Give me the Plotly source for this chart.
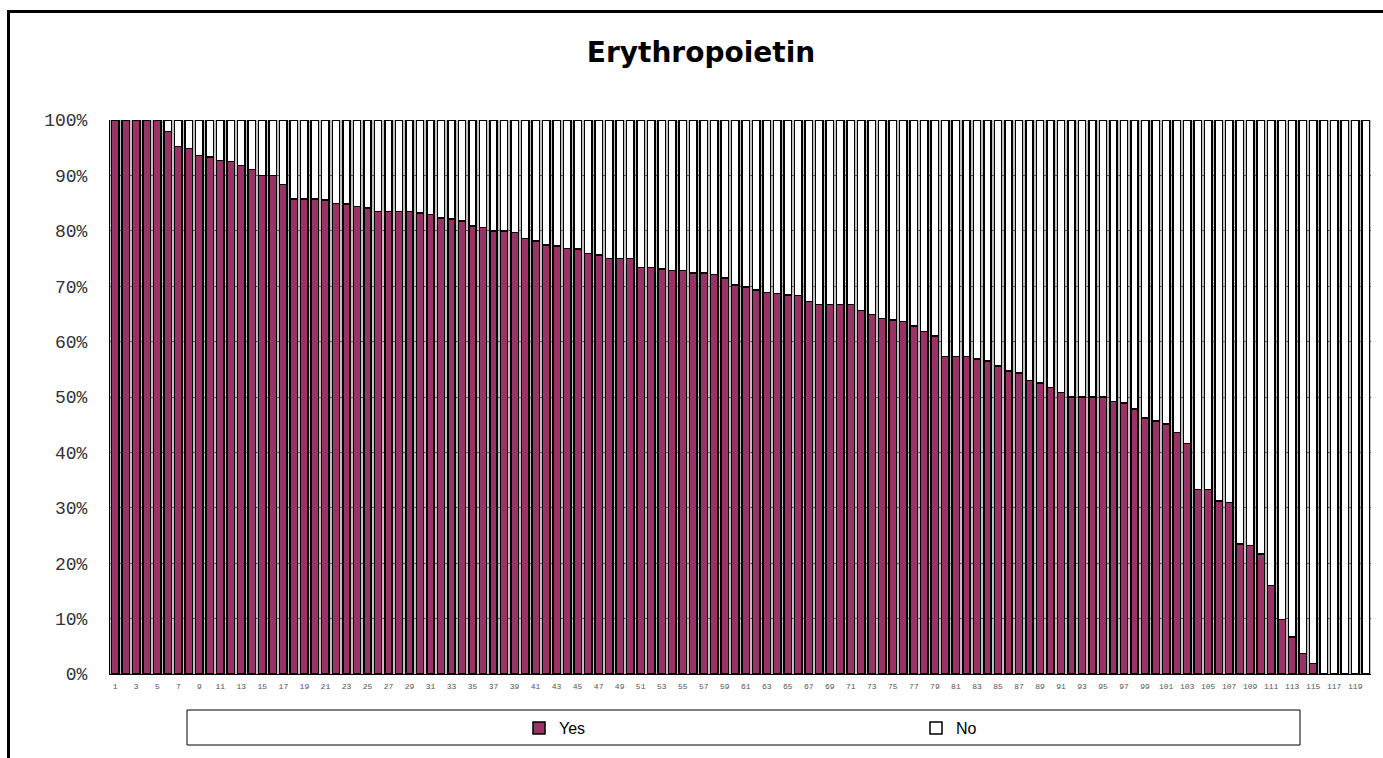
import plotly.graph_objects as go

# Share of "Yes" / "No" answers per item, in percent (100% stacked)
categories = [str(i) for i in range(1, 121)]

yes_pct = [
    100, 100, 100, 100, 100,
    97.9, 95.2, 94.9, 93.6, 93.3,
    92.7, 92.5, 91.8, 91.1, 90.0,
    90.0, 88.4, 85.7, 85.7, 85.7,
    85.6, 84.9, 84.8, 84.4, 84.1,
    83.5, 83.5, 83.5, 83.5, 83.2,
    82.9, 82.3, 82.1, 81.8, 80.9,
    80.6, 80.0, 80.0, 79.7, 78.6,
    78.2, 77.4, 77.3, 76.8, 76.7,
    75.9, 75.6, 75.0, 75.0, 75.0,
    73.4, 73.4, 73.1, 72.8, 72.8,
    72.4, 72.4, 72.1, 71.5, 70.2,
    69.9, 69.3, 68.9, 68.7, 68.4,
    68.3, 67.2, 66.7, 66.7, 66.7,
    66.7, 65.6, 64.9, 64.2, 63.9,
    63.6, 62.8, 61.8, 61.0, 57.3,
    57.3, 57.3, 56.9, 56.5, 55.6,
    54.7, 54.3, 53.0, 52.5, 51.7,
    50.8, 50.0, 50.0, 50.0, 50.0,
    49.2, 48.9, 47.8, 46.2, 45.7,
    45.1, 43.6, 41.6, 33.3, 33.3,
    31.2, 31.0, 23.5, 23.2, 21.7,
    16.0, 9.8, 6.7, 3.7, 1.9,
    0, 0, 0, 0, 0,
]

no_pct = [
    0, 0, 0, 0, 0,
    2.1, 4.8, 5.1, 6.4, 6.7,
    7.3, 7.5, 8.2, 8.9, 10.0,
    10.0, 11.6, 14.3, 14.3, 14.3,
    14.4, 15.1, 15.2, 15.6, 15.9,
    16.5, 16.5, 16.5, 16.5, 16.8,
    17.1, 17.7, 17.9, 18.2, 19.1,
    19.4, 20.0, 20.0, 20.3, 21.4,
    21.8, 22.6, 22.7, 23.2, 23.3,
    24.1, 24.4, 25.0, 25.0, 25.0,
    26.6, 26.6, 26.9, 27.2, 27.2,
    27.6, 27.6, 27.9, 28.5, 29.8,
    30.1, 30.7, 31.1, 31.3, 31.6,
    31.7, 32.8, 33.3, 33.3, 33.3,
    33.3, 34.4, 35.1, 35.8, 36.1,
    36.4, 37.2, 38.2, 39.0, 42.7,
    42.7, 42.7, 43.1, 43.5, 44.4,
    45.3, 45.7, 47.0, 47.5, 48.3,
    49.2, 50.0, 50.0, 50.0, 50.0,
    50.8, 51.1, 52.2, 53.8, 54.3,
    54.9, 56.4, 58.4, 66.7, 66.7,
    68.8, 69.0, 76.5, 76.8, 78.3,
    84.0, 90.2, 93.3, 96.3, 98.1,
    100, 100, 100, 100, 100,
]

x_tick_labels = [str(i) for i in range(1, 121, 2)]
y_tick_values = [0, 10, 20, 30, 40, 50, 60, 70, 80, 90, 100]
y_tick_labels = ["0%", "10%", "20%", "30%", "40%", "50%",
                 "60%", "70%", "80%", "90%", "100%"]

W, H = 1383, 758
ML, MR, MT, MB = 110, 12, 120, 84
PW, PH = W - ML - MR, H - MT - MB


def fx(p):
    """pixel column -> paper x"""
    return (p - ML) / PW


def fy(p):
    """pixel row -> paper y"""
    return (H - MB - p) / PH


fig = go.Figure()
fig.add_trace(go.Bar(
    x=categories, y=yes_pct, name="Yes",
    marker=dict(color="#993366", line=dict(color="black", width=1.5)),
))
fig.add_trace(go.Bar(
    x=categories, y=no_pct, name="No",
    marker=dict(color="white", line=dict(color="black", width=1.5)),
))

fig.update_layout(
    width=W, height=H,
    margin=dict(l=ML, r=MR, t=MT, b=MB, pad=0),
    paper_bgcolor="white",
    plot_bgcolor="#c0c0c0",
    barmode="stack",
    bargap=0.3,
    title=dict(
        text="<b>Erythropoietin</b>",
        font=dict(family="DejaVu Sans", size=28, color="black"),
        xref="container", x=701 / W, xanchor="center",
        yref="container", y=1 - 52 / H, yanchor="middle",
    ),
    xaxis=dict(
        type="category",
        tickmode="array", tickvals=x_tick_labels, ticktext=x_tick_labels,
        tickfont=dict(family="Liberation Mono", size=8, color="#555555"),
        showline=True, linecolor="black", linewidth=1,
        showgrid=False, ticks="", ticklabelstandoff=4,
    ),
    yaxis=dict(
        range=[0, 100], tickmode="array",
        tickvals=y_tick_values, ticktext=y_tick_labels,
        tickfont=dict(family="Liberation Mono", size=18, color="#333333"),
        showline=True, linecolor="black", linewidth=1,
        showgrid=True, gridcolor="#555555", gridwidth=1,
        zeroline=False, ticks="", ticklabelstandoff=18,
    ),
    showlegend=True,
    legend=dict(
        orientation="h",
        x=fx(519), xanchor="left",
        y=fy(728), yanchor="middle",
        bgcolor="rgba(0,0,0,0)", borderwidth=0,
        font=dict(family="Liberation Sans", size=16, color="black"),
        entrywidth=352, entrywidthmode="pixels",
        traceorder="normal",
    ),
    shapes=[
        # legend frame
        dict(type="rect", xref="paper", yref="paper",
             x0=fx(187), x1=fx(1300), y0=fy(745), y1=fy(710),
             line=dict(color="black", width=1), fillcolor="rgba(0,0,0,0)",
             layer="above"),
        # outer chart frame
        dict(type="rect", xref="paper", yref="paper",
             x0=fx(8.5), x1=fx(1400), y0=fy(780), y1=fy(11.5),
             line=dict(color="black", width=3), fillcolor="rgba(0,0,0,0)",
             layer="above"),
    ],
)

fig.write_html("out.html")
